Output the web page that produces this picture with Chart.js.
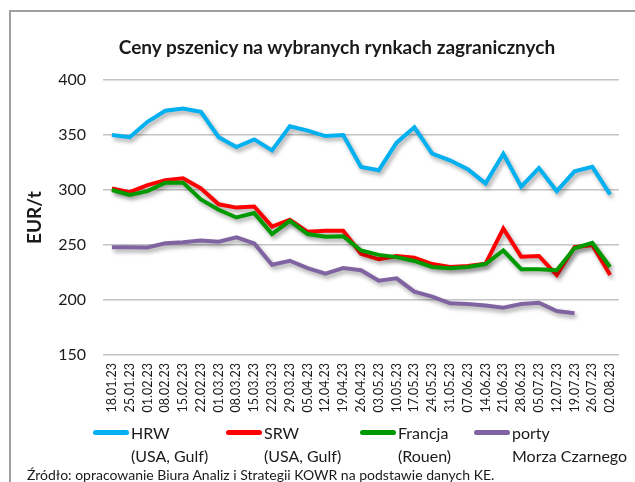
<!DOCTYPE html>
<html>
<head>
<meta charset="utf-8">
<script src="https://cdn.jsdelivr.net/npm/chart.js@4"></script>
<style>
    body { margin: 0; background: #fff; font-family: Lato, sans-serif; }
    #wrap { position: relative; width: 635px; height: 482px; overflow: hidden; }
    #frame { position: absolute; left: 9px; top: 10px; width: 700px; height: 600px; border-left: 2px solid #a0a0a0; border-top: 2px solid #a0a0a0; }
    #chart { position: absolute; left: 0; top: 0; }
    #title { position: absolute; left: 107px; width: 460px; top: 35px; text-align: center; font-weight: bold; font-size: 19px; color: #1a1a1a; white-space: nowrap; }
    .leg { position: absolute; top: 421px; font-size: 16px; line-height: 23px; color: #1a1a1a; white-space: nowrap; }
    .leg .swatch { position: absolute; left: -38px; top: 9px; width: 36px; height: 5px; border-radius: 3px; }
    #source { position: absolute; left: 27px; top: 466px; font-size: 14px; color: #1a1a1a; white-space: nowrap; }
</style>
</head>
<body>
<div id="wrap">
    <div id="frame"></div>
    <canvas id="chart" width="635" height="482"></canvas>
    <div id="title">Ceny pszenicy na wybranych rynkach zagranicznych</div>
    <div id="legend"></div>
    <div id="source">Źródło: opracowanie Biura Analiz i Strategii KOWR na podstawie danych KE.</div>
</div>
<script>
const weeks = ['18.01.23', '25.01.23', '01.02.23', '08.02.23', '15.02.23', '22.02.23', '01.03.23', '08.03.23',
    '15.03.23', '22.03.23', '29.03.23', '05.04.23', '12.04.23', '19.04.23', '26.04.23', '03.05.23', '10.05.23',
    '17.05.23', '24.05.23', '31.05.23', '07.06.23', '14.06.23', '21.06.23', '28.06.23', '05.07.23', '12.07.23',
    '19.07.23', '26.07.23', '02.08.23'];

const hrw = [350, 348, 362, 372, 374, 371, 348, 339, 346, 336, 358, 354, 349, 350, 321, 318, 343, 357, 333, 327,
    319, 306, 333, 303, 320, 299, 317, 321, 296];
const srw = [301.5, 298, 304.5, 309, 310.6, 301.5, 287, 284, 285, 266.7, 273, 262, 263, 263, 242, 237, 240, 238.5,
    232.7, 230, 231, 233, 265, 239.4, 240, 222.7, 248, 250, 222.7];
const francja = [300, 295.5, 299, 306.7, 306.7, 291.5, 282, 275, 279, 260, 272, 260, 257.6, 258, 245, 241, 239,
    235.5, 230, 228.8, 230, 232.7, 245, 228, 228, 227, 247, 252, 230];
const porty = [248, 248, 247.7, 251.5, 252.4, 254, 253, 257, 251.5, 232, 235.7, 229, 224, 229, 227, 217.5, 219.7,
    207.6, 203, 197, 196.4, 195, 193, 196.4, 197.5, 190, 188, null, null];

const seriesNames = [['HRW', '(USA, Gulf)'], ['SRW', '(USA, Gulf)'], ['Francja', '(Rouen)'], ['porty', 'Morza Czarnego']];
const yTicks = [150, 200, 250, 300, 350, 400];

const colors = ['#00b0f0', '#ff0000', '#009900', '#8064a2'];
const legendX = [131, 264, 398, 512];

// soft drop shadow under every line, like the office chart
const shadowPlugin = {
    id: 'lineShadow',
    beforeDatasetDraw(chart) {
        const ctx = chart.ctx;
        ctx.save();
        ctx.shadowColor = 'rgba(0, 0, 0, 0.35)';
        ctx.shadowBlur = 4;
        ctx.shadowOffsetX = 2;
        ctx.shadowOffsetY = 3;
    },
    afterDatasetDraw(chart) {
        chart.ctx.restore();
    }
};

function makeSet(name, data, color, order) {
    return {
        label: name.join(' '),
        data: data,
        borderColor: color,
        backgroundColor: color,
        borderWidth: 4,
        pointRadius: 0,
        tension: 0,
        spanGaps: false,
        order: order
    };
}

const ctx = document.getElementById('chart').getContext('2d');
new Chart(ctx, {
    type: 'line',
    data: {
        labels: weeks,
        datasets: [
            makeSet(seriesNames[0], hrw, colors[0], 1),
            makeSet(seriesNames[1], srw, colors[1], 2),
            makeSet(seriesNames[2], francja, colors[2], 1),
            makeSet(seriesNames[3], porty, colors[3], 1)
        ]
    },
    options: {
        responsive: false,
        animation: false,
        layout: { padding: { left: 10, right: 16, top: 80, bottom: 67 } },
        plugins: {
            legend: { display: false },
            title: { display: false },
            tooltip: { enabled: false }
        },
        scales: {
            x: {
                offset: true,
                grid: { display: false, drawTicks: false },
                border: { display: false },
                ticks: {
                    autoSkip: false,
                    minRotation: 90,
                    maxRotation: 90,
                    padding: 8,
                    color: '#1a1a1a',
                    font: { family: 'Lato', size: 12.5 }
                },
                afterFit(scale) { scale.height = 60; }
            },
            y: {
                min: yTicks[0],
                max: yTicks[yTicks.length - 1],
                afterBuildTicks(scale) { scale.ticks = yTicks.map(v => ({ value: v })); },
                grid: { color: '#c4c4c4', lineWidth: 1.5, drawTicks: false },
                border: { display: false },
                ticks: {
                    padding: 17,
                    color: '#1a1a1a',
                    font: { family: 'Lato', size: 16 }
                },
                title: {
                    display: true,
                    text: 'EUR/t',
                    color: '#1a1a1a',
                    padding: { top: 13, bottom: 0 },
                    font: { family: 'Lato', size: 19, weight: 'bold' }
                },
                afterFit(scale) { scale.width = 93; }
            }
        }
    },
    plugins: [shadowPlugin]
});

const legend = document.getElementById('legend');
seriesNames.forEach(function(name, i) {
    const item = document.createElement('div');
    item.className = 'leg';
    item.style.left = legendX[i] + 'px';
    item.innerHTML = '<span class="swatch" style="background:' + colors[i] + '"></span>' + name[0] + '<br>' + name[1];
    legend.appendChild(item);
});
</script>
</body>
</html>
